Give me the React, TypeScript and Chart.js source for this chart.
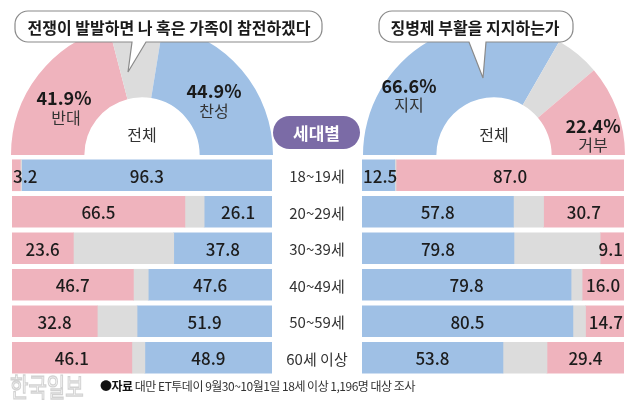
import React, { useEffect, useRef } from "react";
import { Chart, registerables } from "chart.js";
Chart.register(...registerables);

// ---- data ----
const ageGroups = ["18~19세", "20~29세", "30~39세", "40~49세", "50~59세", "60세 이상"];
const leftOppose = [3.2, 66.5, 23.6, 46.7, 32.8, 46.1];
const leftNoAnswer = [0.5, 7.4, 38.6, 5.7, 15.3, 5.0];
const leftFavor = [96.3, 26.1, 37.8, 47.6, 51.9, 48.9];
const rightSupport = [12.5, 57.8, 58.0, 79.8, 80.5, 53.8];
const rightSupportPrinted = ["12.5", "57.8", "79.8", "79.8", "80.5", "53.8"];
const rightNoAnswer = [0.5, 11.5, 32.9, 4.2, 4.8, 16.8];
const rightRefuse = [87.0, 30.7, 9.1, 16.0, 14.7, 29.4];
const leftOverallLabels = ["반대", "무응답", "찬성"];
const leftOverall = [41.9, 13.2, 44.9];
const rightOverallLabels = ["지지", "무응답", "거부"];
const rightOverall = [66.6, 11.0, 22.4];
const leftTitle = "전쟁이 발발하면 나 혹은 가족이 참전하겠다";
const rightTitle = "징병제 부활을 지지하는가";
const sourceText = "대만 ET투데이 9월30~10월1일 18세 이상 1,196명 대상 조사";

const PINK = "#efb3bd";
const BLUE = "#9fc0e5";
const GRAY = "#dcdcdc";
const FONT = "'Noto Sans CJK KR', 'Noto Sans', sans-serif";

const fmt = (v: number) => v.toFixed(1);

const barLabelPlugin = {
  id: "barLabels",
  afterDatasetsDraw(chart: any) {
    const ctx = chart.ctx;
    const area = chart.chartArea;
    ctx.save();
    ctx.font = `500 17px ${FONT}`;
    ctx.fillStyle = "#1c1c1c";
    ctx.textBaseline = "middle";
    ctx.textAlign = "center";
    chart.data.datasets.forEach((ds: any, di: number) => {
      const texts = ds.texts;
      if (!texts) return;
      const meta = chart.getDatasetMeta(di);
      meta.data.forEach((el: any, i: number) => {
        const p = el.getProps(["x", "y", "base"], true);
        const l = Math.min(p.x, p.base);
        const r = Math.max(p.x, p.base);
        const t = texts[i];
        const w = ctx.measureText(t).width;
        let cx = (l + r) / 2;
        if (w + 6 > r - l) {
          if (l <= area.left + 1) cx = area.left + 1 + w / 2;
          else cx = area.right - 1 - w / 2;
        }
        ctx.fillText(t, cx, p.y + 1);
      });
    });
    ctx.restore();
  },
};

function Donut({ values, labels, colors, left }: any) {
  const ref = useRef<HTMLCanvasElement>(null);
  useEffect(() => {
    const c = new Chart(ref.current!, {
      type: "doughnut",
      data: {
        labels,
        datasets: [{ data: values, backgroundColor: colors, borderWidth: 0, hoverOffset: 0 }],
      },
      options: {
        responsive: false,
        animation: false,
        rotation: -90,
        circumference: 180,
        cutout: "44%",
        events: [],
        layout: { padding: 0 },
        plugins: { legend: { display: false }, tooltip: { enabled: false } },
      } as any,
    });
    return () => c.destroy();
  }, []);
  return (
    <canvas
      ref={ref}
      width={262}
      height={131}
      style={{ position: "absolute", left, top: 24, width: 262, height: 131, display: "block" }}
    />
  );
}

function Bars({ datasets, left, width }: any) {
  const ref = useRef<HTMLCanvasElement>(null);
  useEffect(() => {
    const c = new Chart(ref.current!, {
      type: "bar",
      data: { labels: ageGroups, datasets },
      options: {
        indexAxis: "y",
        responsive: false,
        animation: false,
        events: [],
        layout: { padding: 0 },
        scales: {
          x: { display: false, stacked: true, min: 0, max: 100 },
          y: { display: false, stacked: true },
        },
        plugins: { legend: { display: false }, tooltip: { enabled: false } },
      } as any,
      plugins: [barLabelPlugin],
    });
    return () => c.destroy();
  }, []);
  return (
    <canvas
      ref={ref}
      width={width}
      height={219}
      style={{ position: "absolute", left, top: 157, width, height: 219, display: "block" }}
    />
  );
}

function bubblePath(x1: number, y1: number, x2: number, y2: number, r: number, tl: number, tr: number, tx: number, ty: number) {
  return `M${x1 + r},${y1} H${x2 - r} A${r},${r} 0 0 1 ${x2},${y1 + r} V${y2 - r} A${r},${r} 0 0 1 ${x2 - r},${y2} H${tr} L${tx},${ty} L${tl},${y2} H${x1 + r} A${r},${r} 0 0 1 ${x1},${y2 - r} V${y1 + r} A${r},${r} 0 0 1 ${x1 + r},${y1} Z`;
}

const abs = (s: any): any => ({ position: "absolute", whiteSpace: "nowrap", fontFamily: FONT, lineHeight: 1, ...s });

function Centered({ x, y, size, weight = 400, color = "#222", children, extra = {} }: any) {
  return (
    <div style={abs({ left: x, top: y, transform: "translate(-50%, -50%)", fontSize: size, fontWeight: weight, color, ...extra })}>
      {children}
    </div>
  );
}

export default function App() {
  const leftSets = [
    { data: leftOppose, backgroundColor: PINK, borderWidth: 0, barThickness: 31, texts: leftOppose.map(fmt) },
    { data: leftNoAnswer, backgroundColor: GRAY, borderWidth: 0, barThickness: 31 },
    { data: leftFavor, backgroundColor: BLUE, borderWidth: 0, barThickness: 31, texts: leftFavor.map(fmt) },
  ];
  const rightSets = [
    { data: rightSupport, backgroundColor: BLUE, borderWidth: 0, barThickness: 31, texts: rightSupportPrinted },
    { data: rightNoAnswer, backgroundColor: GRAY, borderWidth: 0, barThickness: 31 },
    { data: rightRefuse, backgroundColor: PINK, borderWidth: 0, barThickness: 31, texts: rightRefuse.map(fmt) },
  ];
  return (
    <div style={{ position: "fixed", left: 0, top: 0, width: 640, height: 414, background: "#fff", overflow: "hidden", fontFamily: FONT }}>
      <Donut values={leftOverall} labels={leftOverallLabels} colors={[PINK, GRAY, BLUE]} left={11} />
      <Donut values={rightOverall} labels={rightOverallLabels} colors={[BLUE, GRAY, PINK]} left={363} />
      <Bars datasets={leftSets} left={12} width={260} />
      <Bars datasets={rightSets} left={362} width={262} />

      <svg width={640} height={414} style={{ position: "absolute", left: 0, top: 0, pointerEvents: "none" }}>
        <path d={bubblePath(15, 11, 322, 42, 13, 132, 146, 128, 72)} fill="#fff" stroke="#8a8a8a" strokeWidth={1.2} />
        <path d={bubblePath(379, 11, 573, 42, 13, 469, 486, 483, 78)} fill="#fff" stroke="#8a8a8a" strokeWidth={1.2} />
      </svg>

      <Centered x={169} y={27} size={16} weight={700} color="#1a1a1a">{leftTitle}</Centered>
      <Centered x={475} y={27} size={16} weight={700} color="#1a1a1a">{rightTitle}</Centered>

      <Centered x={64} y={97} size={18} weight={700} color="#1a1a1a">{`${fmt(leftOverall[0])}%`}</Centered>
      <Centered x={66} y={117} size={16} color="#333">{leftOverallLabels[0]}</Centered>
      <Centered x={214} y={90} size={18} weight={700} color="#1a1a1a">{`${fmt(leftOverall[2])}%`}</Centered>
      <Centered x={214} y={110} size={16} color="#333">{leftOverallLabels[2]}</Centered>
      <Centered x={409} y={85} size={18} weight={700} color="#1a1a1a">{`${fmt(rightOverall[0])}%`}</Centered>
      <Centered x={409} y={104} size={16} color="#333">{rightOverallLabels[0]}</Centered>
      <Centered x={593} y={125} size={18} weight={700} color="#1a1a1a">{`${fmt(rightOverall[2])}%`}</Centered>
      <Centered x={593} y={144} size={16} color="#333">{rightOverallLabels[2]}</Centered>

      <Centered x={142} y={134} size={16} color="#333">전체</Centered>
      <Centered x={494} y={134} size={16} color="#333">전체</Centered>

      <div style={abs({ left: 273, top: 116, width: 87, height: 33, borderRadius: 17, background: "#7b6ba6", color: "#fff", fontSize: 17, fontWeight: 700, display: "flex", alignItems: "center", justifyContent: "center" })}>
        세대별
      </div>

      {ageGroups.map((g, i) => (
        <Centered key={g} x={317} y={157 + 18.25 + i * 36.5} size={15} color="#333">{g}</Centered>
      ))}

      <div style={abs({ left: 10, top: 374, fontSize: 20, fontWeight: 400, color: "#fff", WebkitTextStroke: "1px #d2d2d2", letterSpacing: 0, transform: "scaleY(1.3)", transformOrigin: "left top" })}>
        한국일보
      </div>
      <div style={abs({ left: 100, top: 380, fontSize: 12, color: "#333", letterSpacing: -0.5 })}>
        <span style={{ fontWeight: 700, color: "#111" }}>●자료</span> {sourceText}
      </div>
    </div>
  );
}
